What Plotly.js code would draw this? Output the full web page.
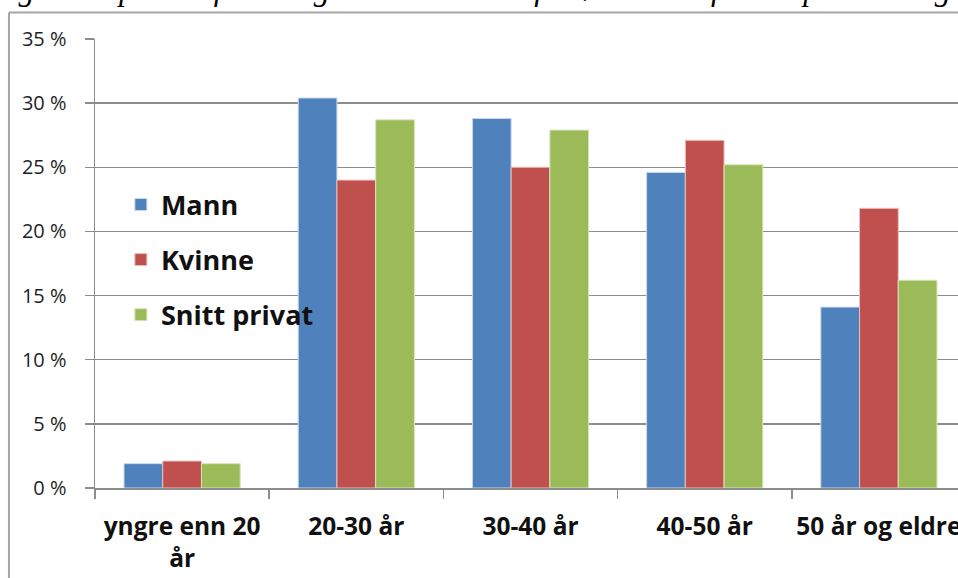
<!DOCTYPE html>
<html>
<head>
<meta charset="utf-8">
<script src="https://cdn.plot.ly/plotly-3.0.1.min.js"></script>
<style>html,body{margin:0;padding:0;background:#fff;}#chart{width:958px;height:578px;}</style>
</head>
<body>
<div id="chart"></div>
<script>
const categories = ['yngre enn 20<br>år', '20-30 år', '30-40 år', '40-50 år', '50 år og eldre'];
const seriesNames = ['Mann', 'Kvinne', 'Snitt privat'];
const mann = [1.9, 30.4, 28.8, 24.6, 14.1];
const kvinne = [2.1, 24.0, 25.0, 27.1, 21.8];
const snittPrivat = [1.9, 28.7, 27.9, 25.2, 16.2];
const yTicks = [0, 5, 10, 15, 20, 25, 30, 35];
const yTickLabels = ['0 %', '5 %', '10 %', '15 %', '20 %', '25 %', '30 %', '35 %'];
const caption = 'Figur 1 – prosentfordeling avdekkede svarforsøk i 2012 fordelt på alder og kjønn';

const colors = ['#4F81BD', '#C0504D', '#9BBB59'];
const edges = ['#c9d8ec', '#e7c0bf', '#d7e6bd'];
const values = [mann, kvinne, snittPrivat];

const traces = values.map((v, i) => ({
  type: 'bar',
  name: seriesNames[i],
  x: categories,
  y: v,
  legendgroup: 'g' + i,
  marker: {color: colors[i], line: {color: edges[i], width: 1}},
  hoverinfo: 'x+y+name'
}));

const layout = {
  width: 958, height: 578,
  margin: {l: 95, r: 0, t: 39, b: 90},
  paper_bgcolor: '#ffffff', plot_bgcolor: '#ffffff',
  barmode: 'group', bargap: 0.333, bargroupgap: 0,
  font: {family: 'Open Sans, sans-serif', color: '#1a1a1a'},
  xaxis: {
    type: 'category', range: [-0.5, 4.454],
    tickson: 'boundaries', ticks: 'outside', ticklen: 9, tickwidth: 1.5, tickcolor: '#8c8c8c',
    showline: true, linecolor: '#8c8c8c', linewidth: 1.5,
    showgrid: false, zeroline: false,
    tickfont: {family: 'Open Sans, sans-serif', size: 24.5, color: '#111', weight: 'bold'},
    ticklabelstandoff: 16
  },
  yaxis: {
    range: [0, 35], tickmode: 'array', tickvals: yTicks, ticktext: yTickLabels,
    ticks: 'outside', ticklen: 9, tickwidth: 1.5, tickcolor: '#8c8c8c',
    showline: true, linecolor: '#8c8c8c', linewidth: 1.5,
    showgrid: true, gridcolor: '#8c8c8c', gridwidth: 1.5, zeroline: false,
    tickfont: {family: 'Open Sans, sans-serif', size: 20, color: '#1f1f1f'},
    ticklabelstandoff: 14
  },
  legend: {
    x: 0.03, xanchor: 'left', y: 0.685, yanchor: 'top',
    bgcolor: 'rgba(0,0,0,0)', borderwidth: 0,
    tracegroupgap: 17,
    font: {family: 'Open Sans, sans-serif', size: 27, color: '#111', weight: 'bold'}
  },
  shapes: [
    {type: 'line', xref: 'paper', yref: 'paper', x0: -0.0997, x1: -0.0997, y0: 1.059, y1: -0.3, line: {color: '#a6a6a6', width: 2}},
    {type: 'line', xref: 'paper', yref: 'paper', x0: -0.0997, x1: 1.01, y0: 1.059, y1: 1.059, line: {color: '#a6a6a6', width: 2}}
  ],
  annotations: [
    {text: '<i>' + caption + '</i>', xref: 'paper', yref: 'paper', x: -0.125, y: 1.066, xanchor: 'left', yanchor: 'bottom',
     showarrow: false, font: {family: 'Liberation Serif, serif', size: 32, color: '#000'}}
  ],
  showlegend: true
};

Plotly.newPlot('chart', traces, layout, {displayModeBar: false, staticPlot: true});
</script>
</body>
</html>
